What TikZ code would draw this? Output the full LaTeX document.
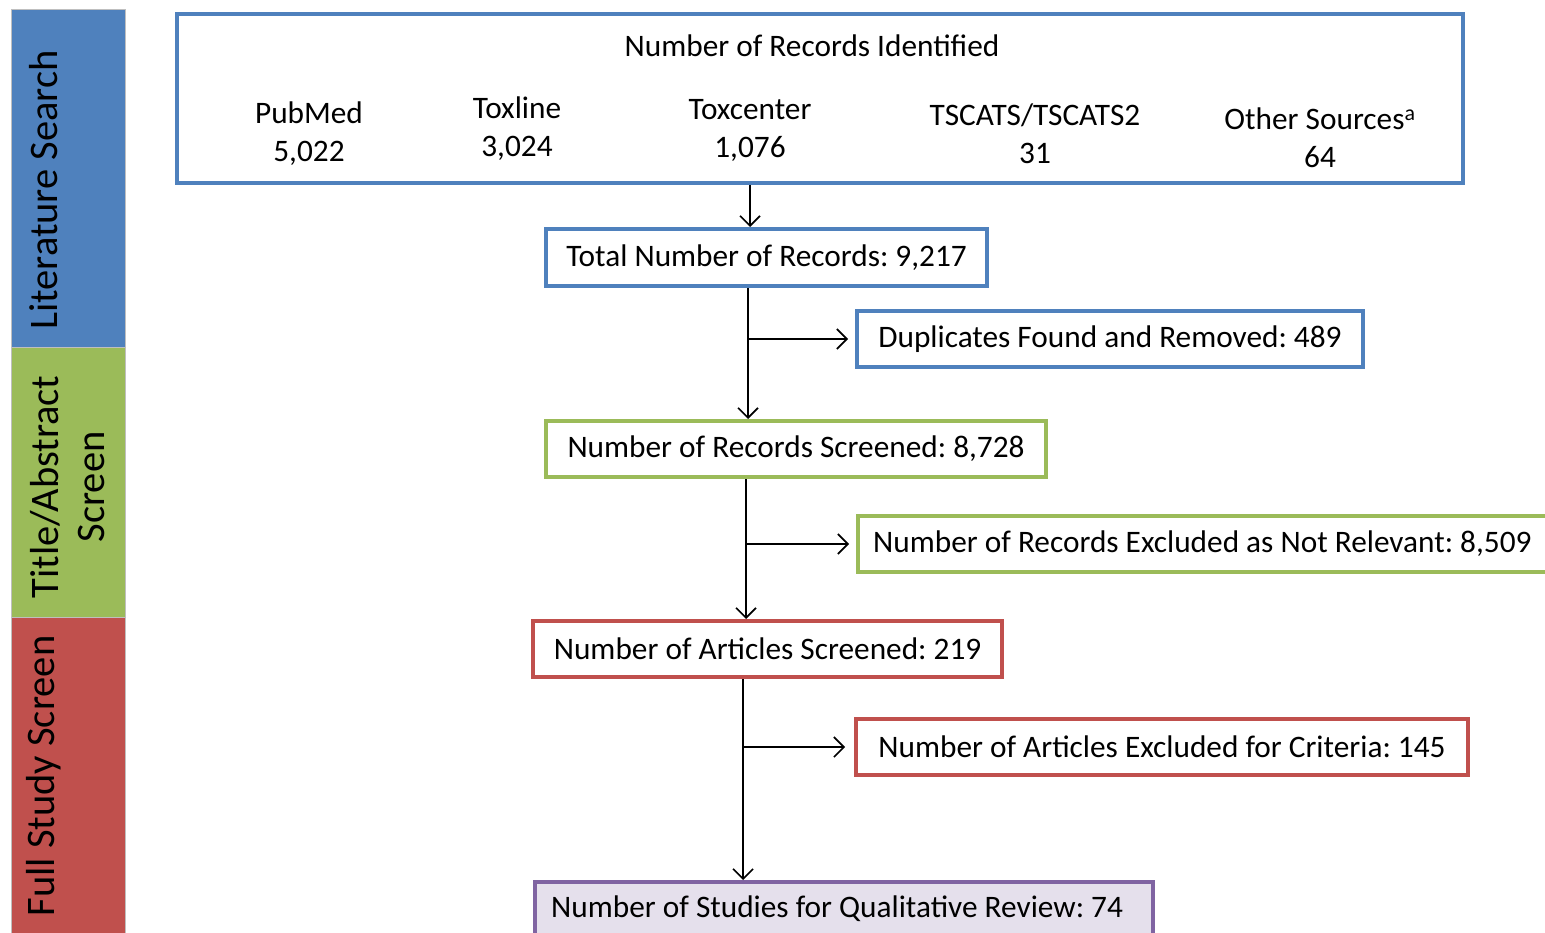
\documentclass[tikz,border=0pt]{standalone}
\usepackage{fontspec}
\setmainfont{Carlito}
\usetikzlibrary{arrows.meta}
\definecolor{cblue}{HTML}{4F81BD}
\definecolor{cgreen}{HTML}{9BBB59}
\definecolor{cred}{HTML}{C0504D}
\definecolor{cpurple}{HTML}{8064A2}
\definecolor{clav}{HTML}{E5E0EC}
\frenchspacing
\tikzset{
  x=1pt,y=-1pt,
  txt/.style={font=\fontsize{31.3}{38}\selectfont, inner sep=0pt, align=center},
  sidetxt/.style={font=\fontsize{40.5}{46}\selectfont, inner sep=0pt, align=center, rotate=90},
  boxb/.style={draw=#1, line width=4pt, fill=white, inner sep=0pt, font=\fontsize{31.3}{38}\selectfont},
  arr/.style={draw=black, line width=1.6pt, -{Straight Barb[length=10pt,width=20pt,line width=1.6pt]}},
  bar/.style={draw=black!25, line width=0.8pt, fill=#1}
}
\begin{document}
\begin{tikzpicture}
\clip (0,0) rectangle (1545,933);
\fill[white] (0,0) rectangle (1545,933);
% side bars
\path[bar=cblue] (11,9) rectangle (125,347);
\path[bar=cgreen] (11,347) rectangle (125,617);
\path[bar=cred] (11,617) rectangle (125,940);
\node[sidetxt] (s1) at (44,190) {Literature Search};
\node[sidetxt] (s2) at (68,487) {Title/Abstract\\Screen};
\node[sidetxt] (s3) at (44,776) {Full Study Screen};
% top box
\node[boxb=cblue, minimum width=1286pt, minimum height=169pt] (top) at (820,98.5) {};
\node[txt] (ttl) at (812,46) {Number of Records Identified};
\node[txt] (c1) at (309,134) {PubMed\\5,022};
\node[txt] (c2) at (517,129) {Toxline\\3,024};
\node[txt] (c3) at (750,130) {Toxcenter\\1,076};
\node[txt] (c4) at (1035,134) {TSCATS/TSCATS2\\31};
\node[txt] (c5) at (1320,138) {Other Sources\textsuperscript{a}\\64};
% flow boxes
\node[boxb=cblue, minimum width=441pt, minimum height=57pt] (tot) at (766.5,257.5) {Total Number of Records: 9,217};
\node[boxb=cblue, minimum width=506pt, minimum height=56pt] (dup) at (1110,339) {Duplicates Found and Removed: 489};
\node[boxb=cgreen, minimum width=500pt, minimum height=56pt] (scr) at (796,449) {Number of Records Screened: 8,728};
\node[boxb=cgreen, minimum width=710pt, minimum height=56pt, anchor=west] (exc) at (856,544) {};
\node[txt, anchor=west] (exct) at (873,544) {Number of Records Excluded as Not Relevant: 8,509};
\node[boxb=cred, minimum width=469pt, minimum height=56pt] (art) at (767.5,649) {Number of Articles Screened: 219};
\node[boxb=cred, minimum width=612pt, minimum height=56pt] (cri) at (1162,747) {Number of Articles Excluded for Criteria: 145};
\node[boxb=cpurple, fill=clav, minimum width=618pt, minimum height=80pt, anchor=north west] (fin) at (533,880) {};
\node[txt, anchor=west] (fint) at (551,909) {Number of Studies for Qualitative Review: 74};
% connectors
\coordinate (v0) at (750,0);
\coordinate (b1) at (748,339);
\coordinate (b2) at (746,544);
\coordinate (b3) at (743,747);
\draw[arr] (top.south -| v0) -- (tot.north -| v0);
\draw[arr] (tot.south -| b1) -- (scr.north -| b1);
\draw[arr] (b1) -- ([xshift=-7pt]b1 -| dup.west);
\draw[arr] (scr.south -| b2) -- (art.north -| b2);
\draw[arr] (b2) -- ([xshift=-7pt]b2 -| exc.west);
\draw[arr] (art.south -| b3) -- (fin.north -| b3);
\draw[arr] (b3) -- ([xshift=-9pt]b3 -| cri.west);
\end{tikzpicture}
\end{document}
